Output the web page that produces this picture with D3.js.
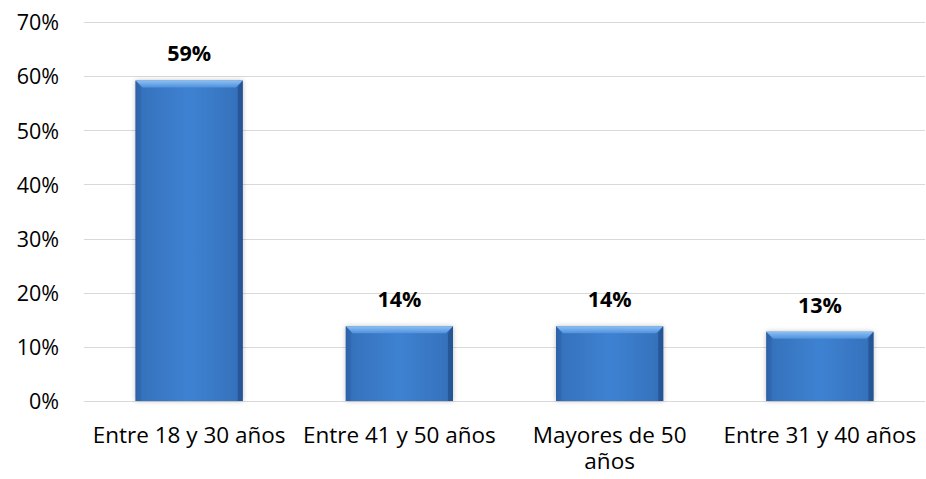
<!DOCTYPE html>
<html><head><meta charset="utf-8">
<script src="https://cdn.jsdelivr.net/npm/d3@7"></script>
<style>body{margin:0;background:#fff}svg{display:block}</style>
</head><body>
<svg id="chart" width="926" height="479"></svg>
<script>
const categories = ["Entre 18 y 30 años", "Entre 41 y 50 años", "Mayores de 50 años", "Entre 31 y 40 años"];
const values = [59.2, 13.8, 13.8, 12.8];
const labels = ["59%", "14%", "14%", "13%"];
const yTicks = [0, 10, 20, 30, 40, 50, 60, 70];

const svg = d3.select("#chart");
const font = "'Open Sans', Lato, sans-serif";
const m = {left: 84, right: 1, top: 22, bottom: 78};
const W = 926, H = 479;
const x = d3.scaleBand().domain(categories).range([m.left, W - m.right]).paddingInner(0.49).paddingOuter(0.245);
const y = d3.scaleLinear().domain([0, 70]).range([H - m.bottom, m.top]);

const defs = svg.append("defs");
const g1 = defs.append("linearGradient").attr("id", "hg").attr("x1", 0).attr("x2", 1).attr("y1", 0).attr("y2", 0);
[[0, "#2a5c9e"], [0.06, "#3672bd"], [0.5, "#3e82d2"], [0.94, "#3672bd"], [1, "#2a5c9e"]].forEach(([o, c]) => g1.append("stop").attr("offset", o).attr("stop-color", c));
const g2 = defs.append("linearGradient").attr("id", "vg").attr("x1", 0).attr("x2", 0).attr("y1", 0).attr("y2", 1);
[[0, "#8cc0f3"], [1, "#4f91dc"]].forEach(([o, c]) => g2.append("stop").attr("offset", o).attr("stop-color", c));
const f = defs.append("filter").attr("id", "sh").attr("x", -0.2).attr("y", -0.2).attr("width", 1.4).attr("height", 1.4);
f.append("feGaussianBlur").attr("in", "SourceAlpha").attr("stdDeviation", 2.5).attr("result", "b");
f.append("feFlood").attr("flood-color", "#000").attr("flood-opacity", 0.25).attr("result", "c");
f.append("feComposite").attr("in", "c").attr("in2", "b").attr("operator", "in").attr("result", "s");
const mg = f.append("feMerge"); mg.append("feMergeNode").attr("in", "s"); mg.append("feMergeNode").attr("in", "SourceGraphic");

// gridlines
svg.append("g").selectAll("line").data(yTicks).join("line")
  .attr("x1", m.left).attr("x2", W - m.right)
  .attr("y1", d => Math.round(y(d)) + 0.5).attr("y2", d => Math.round(y(d)) + 0.5)
  .attr("stroke", "#d9d9d9").attr("stroke-width", 1.2);

// y axis labels
const yAxis = d3.axisLeft(y).tickValues(yTicks).tickFormat(d => d + "%").tickSize(0).tickPadding(0);
const ya = svg.append("g").attr("transform", `translate(59,0)`).call(yAxis);
ya.select(".domain").remove();
ya.selectAll("text").attr("font-family", font).attr("font-size", 21.5).attr("fill", "#000").attr("dy", "0.36em");

// bars
const bars = svg.append("g").selectAll("g").data(values).join("g");
bars.append("rect")
  .attr("x", (d, i) => x(categories[i])).attr("y", d => y(d))
  .attr("width", x.bandwidth()).attr("height", d => y(0) - y(d))
  .attr("fill", "url(#hg)").attr("filter", "url(#sh)");
bars.append("path")
  .attr("d", (d, i) => {
    const x0 = x(categories[i]), x1 = x0 + x.bandwidth(), t = y(d), b = 7;
    return `M${x0},${t}L${x1},${t}L${x1 - b},${t + b}L${x0 + b},${t + b}Z`;
  }).attr("fill", "url(#vg)");
bars.append("path")
  .attr("d", (d, i) => {
    const x0 = x(categories[i]), t = y(d), b = 5;
    return `M${x0},${t}L${x0 + b},${t + b + 2}L${x0 + b},${y(0)}L${x0},${y(0)}Z`;
  }).attr("fill", "#2f66ad").attr("opacity", 0.6);
bars.append("path")
  .attr("d", (d, i) => {
    const x1 = x(categories[i]) + x.bandwidth(), t = y(d), b = 5;
    return `M${x1},${t}L${x1 - b},${t + b + 2}L${x1 - b},${y(0)}L${x1},${y(0)}Z`;
  }).attr("fill", "#24528f").attr("opacity", 0.75);

// value labels
svg.append("g").selectAll("text").data(values).join("text")
  .attr("x", (d, i) => x(categories[i]) + x.bandwidth() / 2)
  .attr("y", d => y(d) - 19)
  .attr("text-anchor", "middle").attr("font-family", font).attr("font-weight", "bold")
  .attr("font-size", 21.5).attr("fill", "#000")
  .text((d, i) => labels[i]);

// x axis labels
const xLines = {"Mayores de 50 años": ["Mayores de 50", "años"]};
const xl = svg.append("g").selectAll("text").data(categories).join("text")
  .attr("x", d => x(d) + x.bandwidth() / 2).attr("y", 443)
  .attr("text-anchor", "middle").attr("font-family", font).attr("font-size", 22.5).attr("fill", "#000");
xl.each(function(d) {
  const lines = xLines[d] || [d];
  d3.select(this).selectAll("tspan").data(lines).join("tspan")
    .attr("x", x(d) + x.bandwidth() / 2).attr("dy", (l, i) => i ? 26 : 0).text(l => l);
});
</script>
</body></html>
